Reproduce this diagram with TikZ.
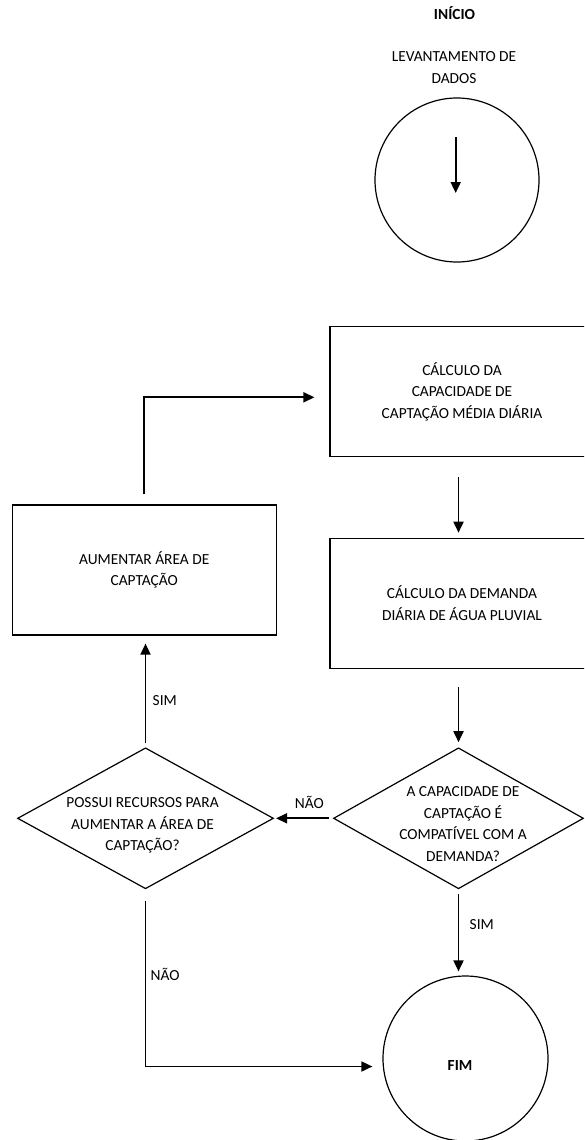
\documentclass[tikz,border=0pt]{standalone}
\usepackage{fontspec}
\setmainfont{Carlito}
\usetikzlibrary{shapes.geometric,arrows.meta}

\newcommand{\fonte}{\fontsize{15.4}{21.6}\selectfont}

\begin{document}
\begin{tikzpicture}[x=1pt, y=-1pt, font=\fonte,
    caixa/.style={draw, rectangle, line width=1.2pt, minimum width=264pt, minimum height=130pt, align=center, inner sep=0pt},
    losango/.style={draw, diamond, line width=1.2pt, minimum width=256pt, minimum height=141pt, inner sep=0pt},
    bola/.style={draw, circle, line width=1.2pt, inner sep=0pt},
    seta/.style={-{Triangle[length=11pt,width=10pt]}, line width=1.8pt}]

    \useasboundingbox (0,0) rectangle (584,1140);
    \clip (0,0) rectangle (584,1140);

    \draw

    %% inicio
    (454.5,19.3)node[anchor=base, font=\fonte\bfseries](inicio){INÍCIO}
    (454,67.5)node[align=center](levant){LEVANTAMENTO DE\\DADOS}
    (457,180)node[bola, minimum size=164pt](ini){}

    %% calculos
    (462,391.7)node[caixa](c1){CÁLCULO DA\\CAPACIDADE DE\\CAPTAÇÃO MÉDIA DIÁRIA}
    (462,603.3)node[caixa](c2){CÁLCULO DA DEMANDA\\DIÁRIA DE ÁGUA PLUVIAL}
    (144.2,570)node[caixa](c3){AUMENTAR ÁREA DE\\CAPTAÇÃO}

    %% decisoes
    (458.5,818.3)node[losango, minimum width=250pt, label={[align=center, xshift=4.5pt, yshift=-5.7pt]center:A CAPACIDADE DE\\CAPTAÇÃO É\\COMPATÍVEL COM A\\DEMANDA?}](d1){}
    (145.5,818.3)node[losango, label={[align=center, xshift=-3pt, yshift=-7pt]center:POSSUI RECURSOS PARA\\AUMENTAR A ÁREA DE\\CAPTAÇÃO?}](d2){}

    %% fim
    (465.5,1058.5)node[bola, minimum size=165pt, label={[font=\fonte\bfseries, xshift=-5.5pt, yshift=-6.5pt]center:FIM}](fim){}

    (455.7,137)coordinate(s1)
    (455.7,193)coordinate(s2)
    ;

    \draw[seta] (s1) -- (s2);
    \draw[seta, shorten <=20pt, shorten >=5pt] (c1.south -| d1.north) -- (c2.north -| d1.north);
    \draw[seta, shorten <=18pt, shorten >=5pt] (c2.south -| d1.north) -- (d1.north);
    \draw[seta, shorten <=4pt, shorten >=2pt] (d1.west) -- (d2.east) node[pos=0.4, above=5pt]{NÃO};
    \draw[seta, shorten <=4pt, shorten >=8pt] (d2.north) -- (d2.north |- c3.south) node[pos=0.42, right=3pt]{SIM};
    \draw[seta, shorten <=10pt, shorten >=15pt] (c3.north) |- ([yshift=-5.6pt]c1.west);
    \draw[seta, shorten <=5pt, shorten >=4pt] (d1.south) -- (d1.south |- fim.north) node[pos=0.41, right=7pt]{SIM};
    \draw[seta, shorten <=12pt, shorten >=10pt] (d2.south) |- ([yshift=-8pt]fim.west) node[pos=0.24, right=1pt]{NÃO};
\end{tikzpicture}
\end{document}
